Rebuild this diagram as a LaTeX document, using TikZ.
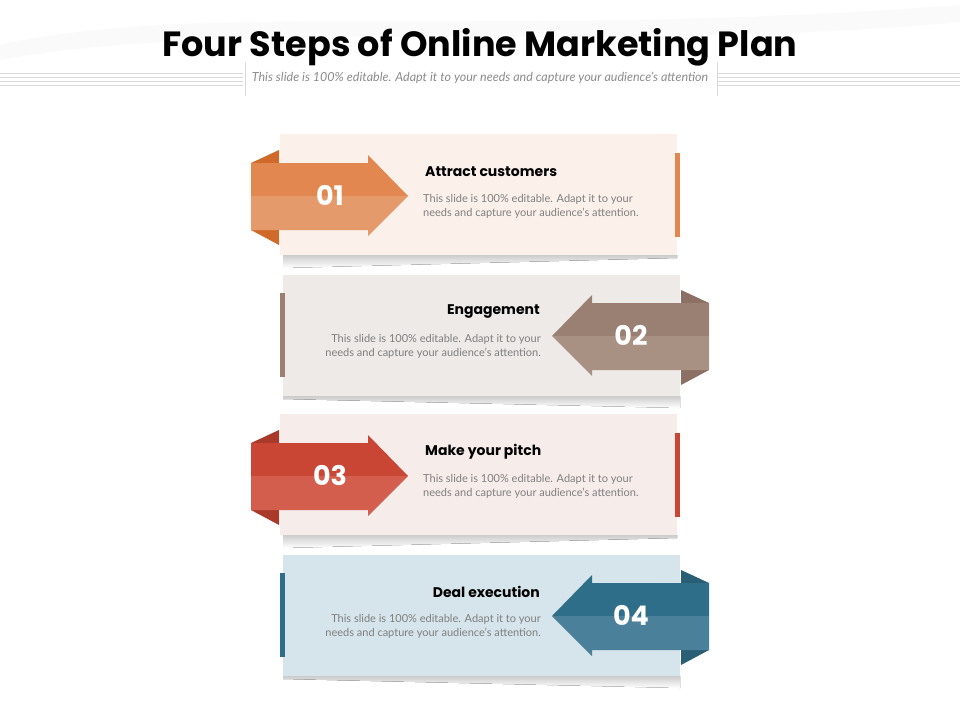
\documentclass[tikz,border=0pt]{standalone}
\usepackage{fontspec}
\setmainfont{Lato}
\newfontfamily\headfont{Poppins}
\usetikzlibrary{positioning}

\definecolor{orgTop}{HTML}{E1874F}
\definecolor{orgBot}{HTML}{E59A6B}
\definecolor{orgFold}{HTML}{CF6A2A}
\definecolor{orgPanel}{HTML}{FBF0EA}
\definecolor{brnTop}{HTML}{998073}
\definecolor{brnBot}{HTML}{A89083}
\definecolor{brnFold}{HTML}{8B7063}
\definecolor{brnPanel}{HTML}{EEEAE7}
\definecolor{redTop}{HTML}{C94634}
\definecolor{redBot}{HTML}{D35E4D}
\definecolor{redFold}{HTML}{A93A2A}
\definecolor{redPanel}{HTML}{F6ECEA}
\definecolor{bluTop}{HTML}{2F6E88}
\definecolor{bluBot}{HTML}{4A8099}
\definecolor{bluFold}{HTML}{285F75}
\definecolor{bluPanel}{HTML}{D6E4EB}
\definecolor{txtGray}{HTML}{7F7F7F}

\begin{document}
\begin{tikzpicture}[x=1pt,y=-1pt,
  rule/.style={draw=black!15, line width=0.8pt},
  shadowband/.style={top color=black!20, bottom color=white, draw=none},
  heading/.style={font=\headfont\bfseries\fontsize{14}{16}\selectfont, inner sep=0pt},
  bodytext/.style={font=\fontsize{11}{13.5}\selectfont, text=txtGray, inner sep=0pt},
  number/.style={font=\headfont\bfseries\fontsize{27}{30}\selectfont, text=white, inner sep=0pt}]

\useasboundingbox (0,0) rectangle (960,720);
\fill [white] (0,0) rectangle (960,720);
% faint swoosh at the top
\fill [black!2] (0,45) .. controls (200,0) and (500,40) .. (960,5) -- (960,22) .. controls (600,55) and (250,15) .. (0,60) -- cycle;

% title
\node (title) at (480,47) [font=\headfont\bfseries\fontsize{35}{40}\selectfont]{Four Steps of Online Marketing Plan};
\node (subtitle) at (480,78) [font=\itshape\fontsize{12.5}{14}\selectfont, text=black!45]{This slide is 100\% editable. Adapt it to your needs and capture your audience's attention};
\draw [rule] (0,73) -- (243,73) (0,77) -- (243,77) (0,81) -- (243,81) (0,85) -- (243,85);
\draw [rule] (718,73) -- (960,73) (718,77) -- (960,77) (718,81) -- (960,81) (718,85) -- (960,85);
\draw [rule] (245,62) -- (245,96);
\draw [rule] (717,62) -- (717,96);

% step 1
\fill [shadowband] (283,255) -- (677,255) -- (677,258) -- (283,268) -- cycle;
\fill [orgPanel] (280,134) rectangle (677,255);
\fill [orgTop] (675,153) rectangle (680,237);
\fill [orgFold] (251,163) -- (279,150) -- (279,163) -- cycle;
\fill [orgFold] (251,230) -- (279,230) -- (279,245) -- cycle;
\fill [orgTop] (251,163) -- (368,163) -- (368,155) -- (408,196) -- (251,196) -- cycle;
\fill [orgBot] (251,196) -- (408,196) -- (368,236) -- (368,230) -- (251,230) -- cycle;
\node (num1) at (330,195) [number]{01};
\node (head1) at (425,172) [heading, anchor=west]{Attract customers};
\node (body1) at (423,206.5) [bodytext, anchor=west, align=left]{This slide is 100\% editable. Adapt it to your\\needs and capture your audience's attention.};

% step 2
\fill [shadowband] (283,396) -- (680,396) -- (680,408) -- (283,399) -- cycle;
\fill [brnPanel] (283,275) rectangle (680,396);
\fill [brnTop] (280,293) rectangle (285,377);
\fill [brnFold] (709,303) -- (681,290) -- (681,303) -- cycle;
\fill [brnFold] (709,370) -- (681,370) -- (681,385) -- cycle;
\fill [brnTop] (709,303) -- (592,303) -- (592,295) -- (552,336) -- (709,336) -- cycle;
\fill [brnBot] (709,336) -- (552,336) -- (592,376) -- (592,370) -- (709,370) -- cycle;
\node (num2) at (631,335) [number]{02};
\node (head2) at (540,312) [heading, anchor=east]{Engagement};
\node (body2) at (541,346.5) [bodytext, anchor=east, align=right]{This slide is 100\% editable. Adapt it to your\\needs and capture your audience's attention.};

% step 3
\fill [shadowband] (283,535) -- (677,535) -- (677,538) -- (283,548) -- cycle;
\fill [redPanel] (280,414) rectangle (677,535);
\fill [redTop] (675,433) rectangle (680,517);
\fill [redFold] (251,443) -- (279,430) -- (279,443) -- cycle;
\fill [redFold] (251,510) -- (279,510) -- (279,525) -- cycle;
\fill [redTop] (251,443) -- (368,443) -- (368,435) -- (408,476) -- (251,476) -- cycle;
\fill [redBot] (251,476) -- (408,476) -- (368,516) -- (368,510) -- (251,510) -- cycle;
\node (num3) at (330,475) [number]{03};
\node (head3) at (425,452) [heading, anchor=west]{Make your pitch};
\node (body3) at (423,486.5) [bodytext, anchor=west, align=left]{This slide is 100\% editable. Adapt it to your\\needs and capture your audience's attention.};

% step 4
\fill [shadowband] (283,676) -- (680,676) -- (680,688) -- (283,679) -- cycle;
\fill [bluPanel] (283,555) rectangle (680,676);
\fill [bluTop] (280,573) rectangle (285,657);
\fill [bluFold] (709,583) -- (681,570) -- (681,583) -- cycle;
\fill [bluFold] (709,650) -- (681,650) -- (681,665) -- cycle;
\fill [bluTop] (709,583) -- (592,583) -- (592,575) -- (552,616) -- (709,616) -- cycle;
\fill [bluBot] (709,616) -- (552,616) -- (592,656) -- (592,650) -- (709,650) -- cycle;
\node (num4) at (631,615) [number]{04};
\node (head4) at (540,592) [heading, anchor=east]{Deal execution};
\node (body4) at (541,626.5) [bodytext, anchor=east, align=right]{This slide is 100\% editable. Adapt it to your\\needs and capture your audience's attention.};
\end{tikzpicture}
\end{document}
